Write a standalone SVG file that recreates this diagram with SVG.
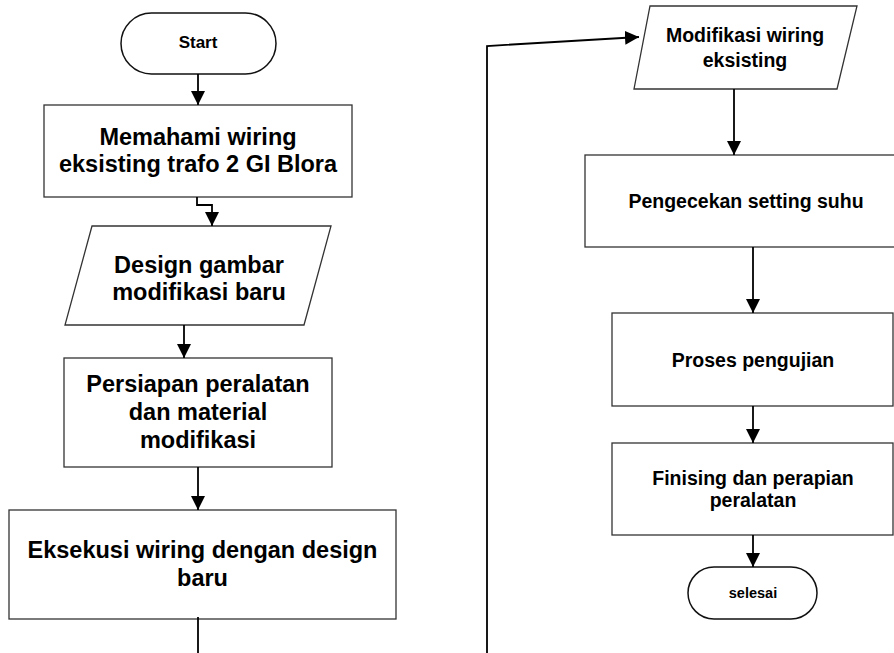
<svg xmlns="http://www.w3.org/2000/svg" width="894" height="653" viewBox="0 0 894 653">
<style>
.shape{fill:#fff;stroke:#333;stroke-width:1.3}
.term{fill:#fff;stroke:#111;stroke-width:1.5}
.t{font-family:"Liberation Sans",Arial,sans-serif;font-weight:bold;fill:#000;text-anchor:middle}
.big{font-size:23.5px}
.mid{font-size:19.5px}
.conn{fill:none;stroke:#000;stroke-width:1.8}
</style>
<defs>
<marker id="arr" markerUnits="userSpaceOnUse" markerWidth="14" markerHeight="14" refX="14" refY="7" orient="auto" viewBox="0 0 14 14">
<path d="M0,0 L14,7 L0,14 z" fill="#000"/>
</marker>
</defs>
<rect width="894" height="653" fill="#fff"/>
<g id="start">
<rect class="term" x="121" y="13" width="155" height="61" rx="30.5"/>
<text class="t" x="198" y="48" font-size="17">Start</text>
</g>
<g id="memahami">
<rect class="shape" x="44" y="105" width="308" height="92"/>
<text class="t big" x="198" y="145">Memahami wiring</text>
<text class="t big" x="198" y="172">eksisting trafo 2 GI Blora</text>
</g>
<g id="design">
<polygon class="shape" points="92,226 331,226 304,325 65,325"/>
<text class="t big" x="199" y="273">Design gambar</text>
<text class="t big" x="199" y="300">modifikasi baru</text>
</g>
<g id="persiapan">
<rect class="shape" x="64" y="358" width="268" height="109"/>
<text class="t big" x="198" y="392">Persiapan peralatan</text>
<text class="t big" x="198" y="420">dan material</text>
<text class="t big" x="198" y="448">modifikasi</text>
</g>
<g id="eksekusi">
<rect class="shape" x="9" y="510" width="387" height="109"/>
<text class="t big" x="202.5" y="558">Eksekusi wiring dengan design</text>
<text class="t big" x="202.5" y="586">baru</text>
</g>
<g id="modifikasi">
<polygon class="shape" points="650,6 857,6 837,89 634,89"/>
<text class="t mid" x="745" y="42">Modifikasi wiring</text>
<text class="t mid" x="745" y="67">eksisting</text>
</g>
<g id="pengecekan">
<rect class="shape" x="585" y="155" width="322" height="92"/>
<text class="t mid" x="746" y="208">Pengecekan setting suhu</text>
</g>
<g id="proses">
<rect class="shape" x="612" y="313" width="281" height="93"/>
<text class="t mid" x="753" y="367">Proses pengujian</text>
</g>
<g id="finising">
<rect class="shape" x="612" y="443" width="281" height="92"/>
<text class="t mid" x="753" y="485">Finising dan perapian</text>
<text class="t mid" x="753" y="507">peralatan</text>
</g>
<g id="selesai">
<rect class="term" x="688" y="567" width="129" height="52" rx="26"/>
<text class="t" x="753" y="598" font-size="14.5">selesai</text>
</g>
<g id="connectors">
<path class="conn" d="M198,74 L198,105" marker-end="url(#arr)"/>
<path class="conn" d="M197,197 L197,205 L212,205 L212,226" marker-end="url(#arr)"/>
<path class="conn" d="M184,325 L184,358" marker-end="url(#arr)"/>
<path class="conn" d="M198,467 L198,510" marker-end="url(#arr)"/>
<path class="conn" d="M198,617 L198,653"/>
<path class="conn" d="M487,653 L487,46 L639,37" marker-end="url(#arr)"/>
<path class="conn" d="M734,89 L734,155" marker-end="url(#arr)"/>
<path class="conn" d="M753,247 L753,313" marker-end="url(#arr)"/>
<path class="conn" d="M753,406 L753,443" marker-end="url(#arr)"/>
<path class="conn" d="M753,535 L753,567" marker-end="url(#arr)"/>
</g>
</svg>
